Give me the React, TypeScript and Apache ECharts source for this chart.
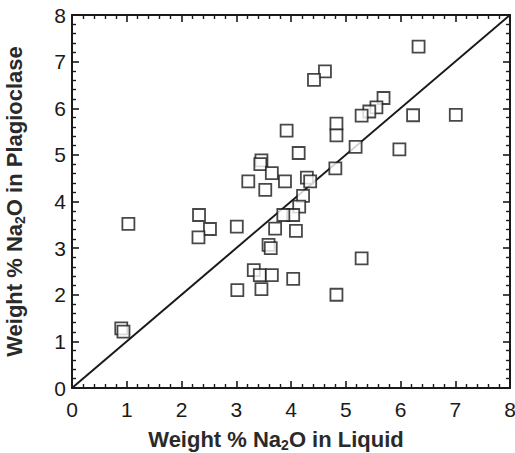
import React, { useEffect, useRef } from "react";
import * as echarts from "echarts";

const liquidNa2O = [
  0.90, 0.94, 1.03, 2.32, 2.52, 2.31, 3.01, 3.02, 3.92, 4.14, 4.83, 4.83,
  3.46, 3.44, 3.65, 3.22, 3.89, 3.53, 4.29, 4.35, 4.81, 4.22, 4.15, 4.04,
  3.86, 3.71, 4.09, 3.59, 3.63, 3.32, 3.43, 3.65, 4.04, 3.46, 4.83, 5.29,
  6.33, 5.69, 5.56, 5.43, 5.29, 6.23, 7.01, 5.18, 5.98, 4.62, 4.42,
];
const plagNa2O = [
  1.28, 1.21, 3.52, 3.71, 3.41, 3.23, 3.46, 2.10, 5.52, 5.04, 5.67, 5.42,
  4.88, 4.80, 4.61, 4.43, 4.43, 4.25, 4.51, 4.43, 4.71, 4.12, 3.89, 3.71,
  3.71, 3.42, 3.37, 3.07, 3.00, 2.53, 2.42, 2.42, 2.34, 2.12, 2.00, 2.78,
  7.32, 6.22, 6.02, 5.93, 5.84, 5.85, 5.86, 5.17, 5.12, 6.79, 6.61,
];
const oneToOne = [0, 8];
const axisMin = 0;
const axisMax = 8;

export default function App() {
  const ref = useRef<HTMLDivElement>(null);
  useEffect(() => {
    if (!ref.current) return;
    const chart = echarts.init(ref.current, undefined, { renderer: "svg" });
    const ink = "#1a1a1a";
    const font = "Liberation Sans, Arial, Helvetica, sans-serif";
    const baseAxis = {
      type: "value" as const,
      min: axisMin,
      max: axisMax,
      interval: 1,
      splitLine: { show: false },
      axisLine: { show: true, onZero: false, lineStyle: { color: ink, width: 2 } },
      axisTick: { show: true, inside: true, length: 7, lineStyle: { color: ink, width: 1.6 } },
      minorTick: { show: true, splitNumber: 5, length: 4, lineStyle: { color: ink, width: 1.4 } },
    };
    const labelStyle = { color: ink, fontSize: 21, fontFamily: font };
    const mkName = (pad: number[]) => ({
      color: "#2a2a2a",
      fontSize: 22,
      fontWeight: "bold" as const,
      fontFamily: font,
      padding: pad,
      rich: {
        sub: { fontSize: 14, fontWeight: "bold" as const, fontFamily: font, color: "#2a2a2a", padding: [11, 0, 0, 0] },
      },
    });
    chart.setOption({
      animation: false,
      grid: { left: 72, right: 5, top: 15, bottom: 65, outerBoundsMode: "none", containLabel: false },
      xAxis: [
        {
          ...baseAxis,
          position: "bottom",
          name: "Weight % Na{sub|2}O in Liquid",
          nameLocation: "middle",
          nameGap: 39,
          nameTextStyle: mkName([0, 30, 0, 0]),
          axisLabel: { ...labelStyle, margin: 11 },
        },
        { ...baseAxis, position: "top", axisLabel: { show: false } },
      ],
      yAxis: [
        {
          ...baseAxis,
          position: "left",
          name: "Weight % Na{sub|2}O in Plagioclase",
          nameLocation: "middle",
          nameRotate: 90,
          nameGap: 45,
          nameTextStyle: mkName([0, 0, 0, 0]),
          axisLabel: { ...labelStyle, margin: 6 },
        },
        { ...baseAxis, position: "right", axisLabel: { show: false } },
      ],
      series: [
        {
          type: "line",
          data: [[oneToOne[0], oneToOne[0]], [oneToOne[1], oneToOne[1]]],
          symbol: "none",
          lineStyle: { color: ink, width: 2 },
          z: 1,
          silent: true,
        },
        {
          type: "scatter",
          data: liquidNa2O.map((x, i) => [x, plagNa2O[i]]),
          symbol: "rect",
          symbolSize: 12,
          itemStyle: { color: "#ffffff", borderColor: ink, borderWidth: 1.8 },
          z: 3,
        },
      ],
    });
    return () => chart.dispose();
  }, []);
  return <div ref={ref} style={{ width: 515, height: 453, position: "absolute", left: 0, top: 0 }} />;
}
